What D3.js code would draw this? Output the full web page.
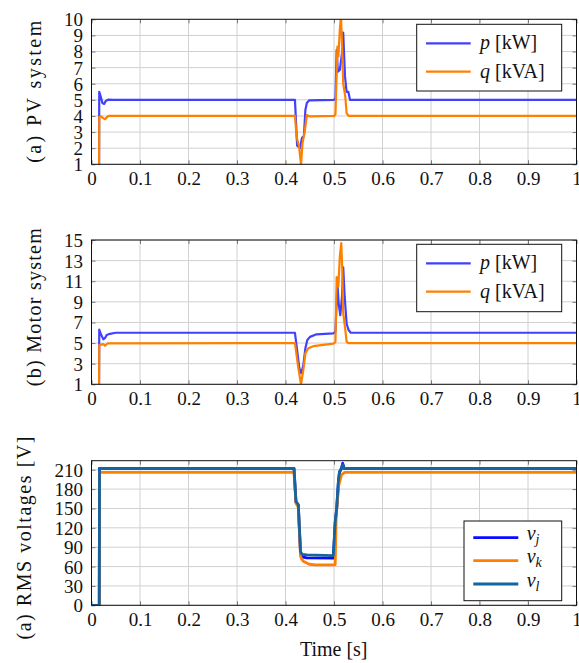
<!DOCTYPE html>
<html>
<head>
<meta charset="utf-8">
<script src="https://cdn.jsdelivr.net/npm/d3@7"></script>
<style>
body { margin: 0; background: #fff; }
text { font-family: "Liberation Serif", "Times New Roman", serif; fill: #111; }
</style>
</head>
<body>
<div class="chart"></div>
<script>
// ---- data (time [s], value) ----
const xTicks = [0, 0.1, 0.2, 0.3, 0.4, 0.5, 0.6, 0.7, 0.8, 0.9, 1];
const pvTicks = [1, 2, 3, 4, 5, 6, 7, 8, 9, 10];
const motorTicks = [1, 3, 5, 7, 9, 11, 13, 15];
const voltTicks = [0, 30, 60, 90, 120, 150, 180, 210];

const pvP = [[0.0155, 0], [0.016, 5.5], [0.019, 5.2], [0.0225, 4.8], [0.026, 4.75], [0.03, 4.95], [0.035, 5.02], [0.045, 5.0],
  [0.4195, 5.0], [0.424, 2.15], [0.43, 2.0], [0.434, 2.65], [0.438, 2.76], [0.441, 4.37], [0.444, 4.8], [0.449, 4.97],
  [0.5, 5.0], [0.503, 5.1], [0.5055, 8.1], [0.508, 6.75], [0.512, 6.86], [0.5165, 7.9], [0.519, 9.17], [0.5227, 6.44],
  [0.526, 5.5], [0.5296, 5.5], [0.533, 5.0], [1, 5.0]];
const pvQ = [[0.0155, 0], [0.016, 3.95], [0.02, 3.98], [0.0213, 3.92], [0.025, 3.85], [0.028, 3.8], [0.031, 3.9], [0.035, 4.0],
  [0.4195, 4.0], [0.423, 2.7], [0.428, 2.1], [0.432, 1.0], [0.435, 2.3], [0.44, 3.1], [0.444, 4.06], [0.45, 3.97],
  [0.5, 4.0], [0.503, 4.1], [0.507, 8.3], [0.509, 7.7], [0.512, 9.34], [0.5144, 10.2], [0.5165, 8.5], [0.519, 6.0],
  [0.5233, 5.2], [0.526, 4.17], [0.53, 4.0], [1, 4.0]];

const motorP = [[0.0155, 0], [0.016, 6.3], [0.019, 5.9], [0.0244, 5.36], [0.028, 5.5], [0.0313, 5.78], [0.038, 5.9], [0.05, 6.0],
  [0.4195, 6.0], [0.4286, 2.55], [0.4326, 2.07], [0.4368, 2.87], [0.441, 4.5], [0.445, 5.3], [0.4505, 5.6], [0.464, 5.85],
  [0.4986, 5.95], [0.503, 6.1], [0.507, 10.8], [0.5096, 8.86], [0.513, 7.7], [0.5165, 9.5], [0.519, 12.35], [0.522, 9.5],
  [0.526, 6.9], [0.53, 6.27], [0.5345, 6.0], [1, 6.0]];
const motorQ = [[0.0155, 0], [0.016, 4.8], [0.0244, 4.9], [0.028, 4.74], [0.0336, 4.98], [0.4195, 5.0], [0.4264, 2.6],
  [0.432, 1.0], [0.4368, 2.4], [0.441, 4.0], [0.447, 4.5], [0.4574, 4.7], [0.4986, 4.95], [0.503, 5.1], [0.5055, 11.4],
  [0.509, 10.5], [0.512, 13.4], [0.515, 14.7], [0.517, 12.1], [0.519, 7.9], [0.5233, 6.3], [0.526, 5.13], [0.53, 5.0], [1, 5.0]];

const vJ = [[0, 0], [0.016, 0], [0.0165, 212], [0.4175, 212], [0.4216, 160], [0.4264, 155], [0.431, 80], [0.434, 75],
  [0.444, 73.5], [0.4986, 73], [0.5025, 128], [0.5055, 149], [0.509, 190], [0.5113, 206], [0.515, 211], [0.518, 220],
  [0.521, 212], [1, 212]];
const vK = [[0.016, 0], [0.0165, 206], [0.4175, 206], [0.4216, 158], [0.4264, 152], [0.431, 76], [0.433, 72], [0.4375, 67.7],
  [0.449, 63.6], [0.4615, 62.7], [0.5025, 62.7], [0.5045, 140], [0.51, 186.7], [0.5155, 202], [0.522, 206], [1, 206]];
const vL = [[0, 0], [0.016, 0], [0.0165, 212], [0.4175, 212], [0.4216, 161], [0.4264, 156], [0.431, 83], [0.434, 79],
  [0.444, 78], [0.4986, 77], [0.5025, 130], [0.5055, 150], [0.509, 192], [0.5113, 207], [0.515, 212], [0.518, 218],
  [0.521, 212], [1, 212]];

// ---- layout ----
const width = 579, height = 663;
const left = 91.5, right = 576.5;

const svg = d3.select('.chart').append('svg')
    .attr('width', width)
    .attr('height', height);

const x = d3.scaleLinear().domain([0, 1]).range([left, right]);

const panels = [
  {top: 19.3, bottom: 164.3, domain: [1, 10], ticks: pvTicks, title: '(a) PV  system', titleX: 41, titleLen: 142,
   series: [{d: pvP, color: '#4040ff', w: 2.2}, {d: pvQ, color: '#ff8000', w: 2.2}],
   legend: {x0: 416.7, y0: 24.3, x1: 561.7, y1: 91, lineX: [426, 470.7], textX: 480,
            items: [{y: 43.3, color: '#4040ff', sym: 'p', rest: ' [kW]'}, {y: 71.7, color: '#ff8000', sym: 'q', rest: ' [kVA]'}]}},
  {top: 240, bottom: 384.3, domain: [1, 15], ticks: motorTicks, title: '(b) Motor system', titleX: 41, titleLen: 158,
   series: [{d: motorP, color: '#4040ff', w: 2.2}, {d: motorQ, color: '#ff8000', w: 2.2}],
   legend: {x0: 416.7, y0: 244.3, x1: 561.7, y1: 311.7, lineX: [426, 470.7], textX: 480,
            items: [{y: 263.3, color: '#4040ff', sym: 'p', rest: ' [kW]'}, {y: 291.7, color: '#ff8000', sym: 'q', rest: ' [kVA]'}]}},
  {top: 460.7, bottom: 605.3, domain: [0, 224], ticks: voltTicks, title: '(a) RMS voltages [V]', titleX: 31, titleLen: 203,
   series: [{d: vJ, color: '#0a0aff', w: 2.8}, {d: vK, color: '#ff8000', w: 2.8}, {d: vL, color: '#1464a0', w: 2.8}],
   legend: {x0: 464, y0: 521, x1: 561.7, y1: 600.7, lineX: [473.3, 518.3], textX: 526.7,
            items: [{y: 537.7, color: '#0a0aff', sym: 'v', sub: 'j'}, {y: 560.7, color: '#ff8000', sym: 'v', sub: 'k'},
                    {y: 584, color: '#1464a0', sym: 'v', sub: 'l'}]}}
];

panels.forEach((p, i) => {
  const y = d3.scaleLinear().domain(p.domain).range([p.bottom, p.top]);
  const g = svg.append('g');

  g.append('clipPath').attr('id', 'clip' + i)
    .append('rect')
    .attr('x', left).attr('y', p.top)
    .attr('width', right - left).attr('height', p.bottom - p.top);

  // grid
  g.selectAll('.vgrid').data(xTicks).enter().append('line')
    .attr('x1', d => x(d)).attr('x2', d => x(d))
    .attr('y1', p.top).attr('y2', p.bottom)
    .attr('stroke', '#d0d0d0').attr('stroke-width', 1);
  g.selectAll('.hgrid').data(p.ticks).enter().append('line')
    .attr('x1', left).attr('x2', right)
    .attr('y1', d => y(d)).attr('y2', d => y(d))
    .attr('stroke', '#d0d0d0').attr('stroke-width', 1);

  // axes with inward ticks
  const xb = g.append('g').attr('transform', `translate(0,${p.bottom})`)
    .call(d3.axisBottom(x).tickValues(xTicks).tickFormat(d3.format('~g')).tickSizeInner(-4).tickSizeOuter(0).tickPadding(7.5));
  const xt = g.append('g').attr('transform', `translate(0,${p.top})`)
    .call(d3.axisTop(x).tickValues(xTicks).tickFormat('').tickSizeInner(-4).tickSizeOuter(0));
  const yl = g.append('g').attr('transform', `translate(${left},0)`)
    .call(d3.axisLeft(y).tickValues(p.ticks).tickFormat(d3.format('d')).tickSizeInner(-4).tickSizeOuter(0).tickPadding(8.5));
  const yr = g.append('g').attr('transform', `translate(${right},0)`)
    .call(d3.axisRight(y).tickValues(p.ticks).tickFormat('').tickSizeInner(-4).tickSizeOuter(0));

  [xb, xt, yl, yr].forEach(a => {
    a.select('.domain').remove();
    a.selectAll('.tick line').attr('stroke', '#7a7a7a');
    a.selectAll('.tick text')
      .attr('font-family', '"Liberation Serif", serif')
      .attr('font-size', 19)
      .attr('fill', '#111');
  });
  yl.selectAll('.tick text').attr('dy', '0.34em');

  // series
  const line = d3.line().x(d => x(d[0])).y(d => y(d[1]));
  p.series.forEach(s => {
    g.append('path')
      .datum(s.d)
      .attr('clip-path', `url(#clip${i})`)
      .attr('fill', 'none')
      .attr('stroke', s.color)
      .attr('stroke-width', s.w)
      .attr('stroke-linejoin', 'round')
      .attr('d', line);
  });

  // frame
  g.append('rect')
    .attr('x', left).attr('y', p.top)
    .attr('width', right - left).attr('height', p.bottom - p.top)
    .attr('fill', 'none').attr('stroke', '#111').attr('stroke-width', 1);

  // y title
  g.append('text')
    .attr('transform', `translate(${p.titleX},${(p.top + p.bottom) / 2 + (i === 2 ? 5 : (i === 1 ? -5 : 0))}) rotate(-90)`)
    .attr('text-anchor', 'middle')
    .attr('font-size', 20)
    .attr('textLength', p.titleLen)
    .attr('lengthAdjust', 'spacing')
    .text(p.title);

  // legend
  const L = p.legend;
  g.append('rect')
    .attr('x', L.x0).attr('y', L.y0)
    .attr('width', L.x1 - L.x0).attr('height', L.y1 - L.y0)
    .attr('fill', '#fff').attr('stroke', '#111').attr('stroke-width', 1);
  L.items.forEach(it => {
    g.append('line')
      .attr('x1', L.lineX[0]).attr('x2', L.lineX[1])
      .attr('y1', it.y).attr('y2', it.y)
      .attr('stroke', it.color).attr('stroke-width', i === 2 ? 2.8 : 2.2);
    const t = g.append('text')
      .attr('x', L.textX)
      .attr('y', it.y + (it.sub ? 2.5 : 6))
      .attr('font-size', 20);
    t.append('tspan').attr('font-style', 'italic').text(it.sym);
    if (it.sub) {
      t.append('tspan').attr('font-style', 'italic').attr('font-size', 14).attr('dy', 4).text(it.sub);
    } else {
      t.append('tspan').text(it.rest);
    }
  });
});

svg.append('text')
  .attr('x', 333.7)
  .attr('y', 656)
  .attr('text-anchor', 'middle')
  .attr('font-size', 20)
  .text('Time [s]');
</script>
</body>
</html>
